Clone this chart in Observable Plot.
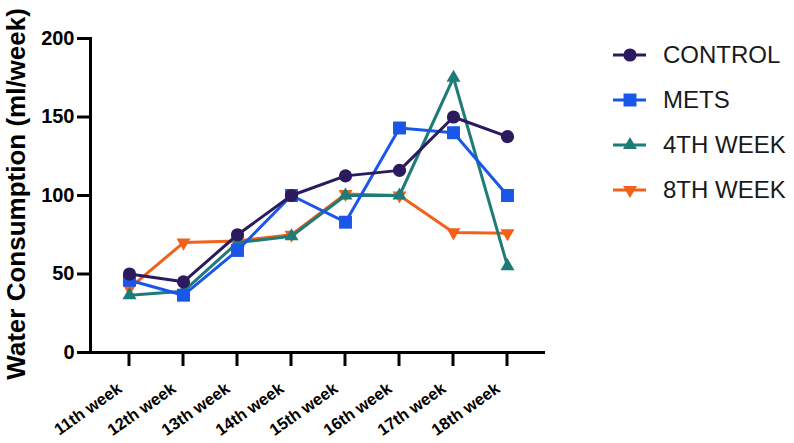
<!DOCTYPE html>
<html>
<head>
<meta charset="utf-8">
<script src="https://cdn.jsdelivr.net/npm/d3@7"></script>
<script src="https://cdn.jsdelivr.net/npm/@observablehq/plot@0.6"></script>
<style>
  html, body { margin: 0; padding: 0; background: #fff; }
  #wrap { position: relative; width: 794px; height: 443px; font-family: "Liberation Sans", Arial, sans-serif; }
  #legend { position: absolute; left: 0; top: 0; }
</style>
</head>
<body>
<div id="wrap"></div>
<script>
const weeks = ["11th week", "12th week", "13th week", "14th week", "15th week", "16th week", "17th week", "18th week"];
const seriesNames = ["CONTROL", "METS", "4TH WEEK", "8TH WEEK"];
const control = [50, 45, 75, 100, 112.5, 116, 150, 137.5];
const mets = [46, 36.5, 65, 100, 83, 143, 140, 100];
const week4 = [36.5, 39, 70, 74, 100, 100, 175, 55];
const week8 = [41, 70, 71, 75, 101, 100, 76.5, 76];
const yTicks = [0, 50, 100, 150, 200];

const colors = ["#2b1a5e", "#1a56e8", "#1e7b78", "#f0621c"];

const triangleDown = {
  draw(ctx, size) {
    const y = -Math.sqrt(size / (Math.sqrt(3) * 3));
    ctx.moveTo(0, -y * 2);
    ctx.lineTo(-Math.sqrt(3) * y, y);
    ctx.lineTo(Math.sqrt(3) * y, y);
    ctx.closePath();
  }
};
const symbols = [d3.symbolCircle, d3.symbolSquare, d3.symbolTriangle, triangleDown];
const radii = [6.6, 7.3, 5.2, 5.2];

const valuesList = [control, mets, week4, week8];
const rows = [];
seriesNames.forEach((s, si) => {
  weeks.forEach((w, i) => rows.push({series: s, si, week: w, value: valuesList[si][i]}));
});

const order = [3, 2, 1, 0];
const marks = [];
for (const si of order) {
  const data = rows.filter(d => d.si === si);
  marks.push(Plot.line(data, {x: "week", y: "value", stroke: colors[si], strokeWidth: 3}));
  marks.push(Plot.dot(data, {x: "week", y: "value", fill: colors[si], stroke: "none", symbol: symbols[si], r: radii[si]}));
}

const chart = Plot.plot({
  width: 794,
  height: 443,
  marginLeft: 90,
  marginRight: 249,
  marginTop: 38,
  marginBottom: 91,
  style: {fontFamily: "'Liberation Sans', Arial, sans-serif", color: "#000", background: "#fff"},
  x: {type: "point", domain: weeks, padding: 0.68, axis: null},
  y: {domain: [0, 200]},
  marks: [
    Plot.axisY({ticks: yTicks, tickSize: 13, tickPadding: 3, fontSize: 20, fontWeight: "bold", strokeWidth: 3, stroke: "#000", label: null}),
    Plot.frame({anchor: "left", strokeWidth: 3}),
    Plot.ruleY([0], {strokeWidth: 3}),
    ...marks
  ]
});
document.getElementById("wrap").appendChild(chart);

const svg = d3.select(chart);
const xs = chart.scale("x");
const ys = chart.scale("y");
const y0 = ys.apply(0);

// x-axis ticks and rotated labels placed with the plot's own x scale
const xAxis = svg.append("g").attr("class", "x-axis");
weeks.forEach(w => {
  const x = xs.apply(w);
  xAxis.append("line")
    .attr("x1", x).attr("x2", x).attr("y1", y0).attr("y2", y0 + 14)
    .attr("stroke", "#000").attr("stroke-width", 3);
  xAxis.append("text")
    .attr("transform", `translate(${x - 6},${y0 + 39}) rotate(-35)`)
    .attr("text-anchor", "end")
    .attr("font-size", 16.5)
    .attr("font-weight", "bold")
    .attr("fill", "#000")
    .text(w);
});

svg.append("text")
  .attr("transform", "translate(25,194) rotate(-90)")
  .attr("text-anchor", "middle")
  .attr("font-size", 26)
  .attr("font-weight", "bold")
  .attr("fill", "#000")
  .text("Water Consumption (ml/week)");

const lg = d3.select("#wrap").append("svg")
  .attr("id", "legend")
  .attr("width", 794).attr("height", 443)
  .style("pointer-events", "none");
const legendY = [55, 100, 145, 190];
seriesNames.forEach((s, si) => {
  const g = lg.append("g").attr("transform", `translate(0,${legendY[si]})`);
  g.append("line").attr("x1", 613).attr("x2", 646).attr("y1", 0).attr("y2", 0)
    .attr("stroke", colors[si]).attr("stroke-width", 3);
  g.append("path").attr("transform", "translate(630,0)")
    .attr("d", d3.symbol(symbols[si], Math.PI * radii[si] * radii[si])())
    .attr("fill", colors[si]);
  g.append("text").attr("x", 663).attr("y", 0).attr("dy", "0.35em")
    .attr("font-size", 24).attr("fill", "#1a1a1a")
    .attr("font-family", "'Liberation Sans', Arial, sans-serif")
    .text(s);
});
</script>
</body>
</html>
